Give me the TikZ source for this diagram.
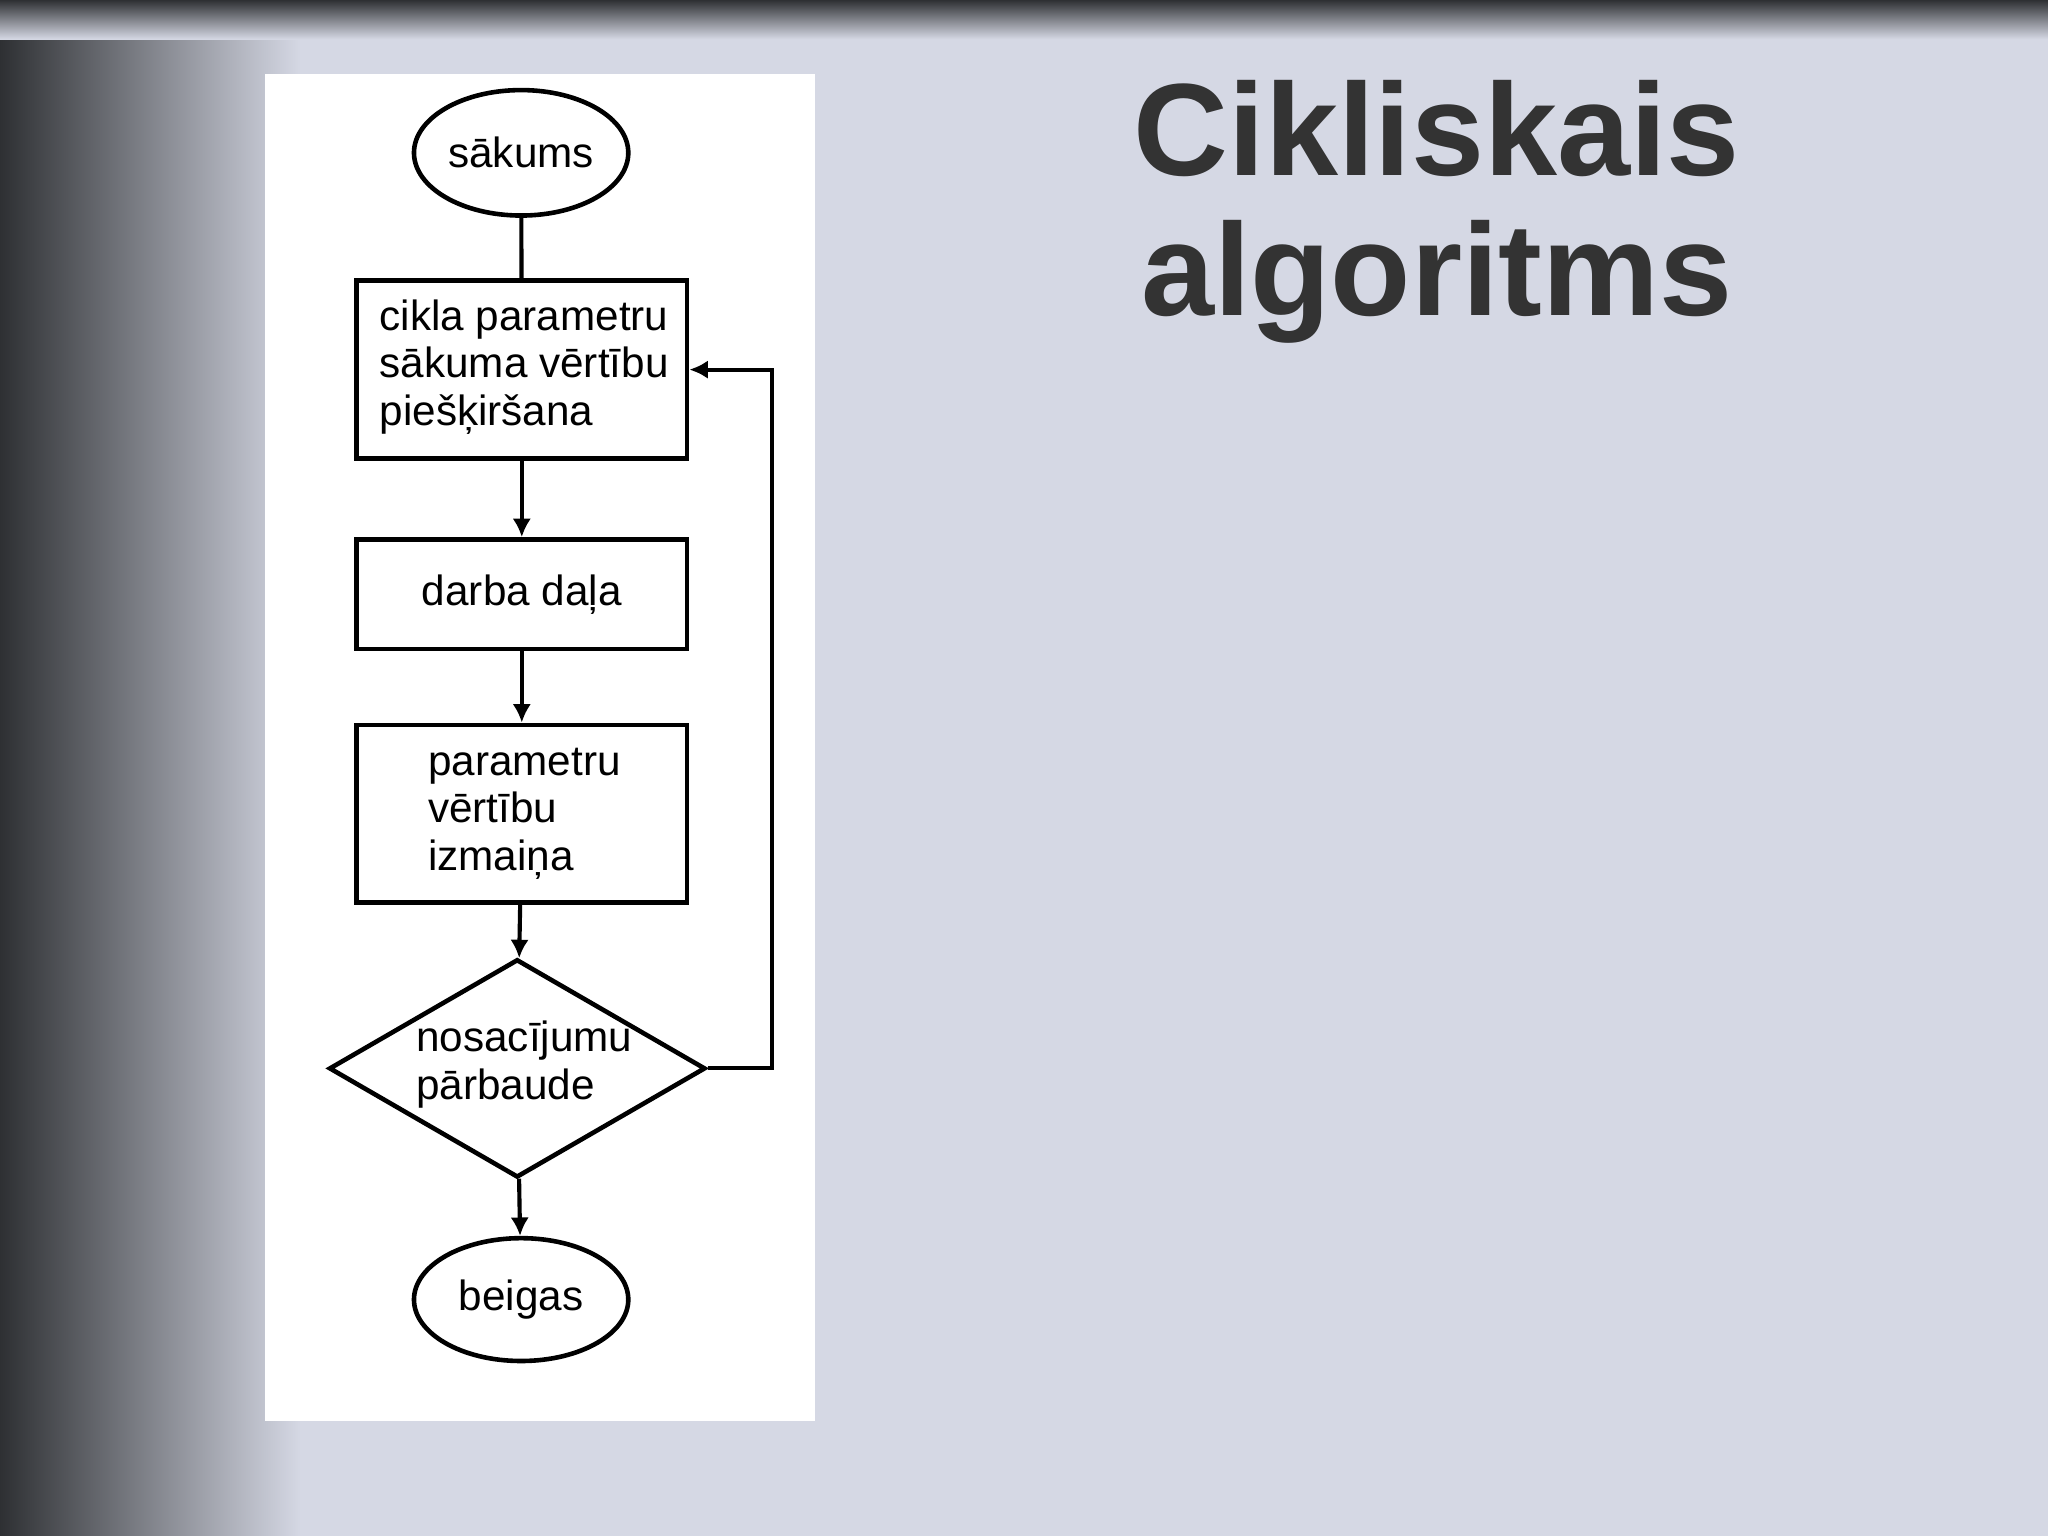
\documentclass[tikz,border=0pt]{standalone}
\usepackage{fontspec}
\setmainfont{Liberation Sans}
\usetikzlibrary{shapes.geometric,arrows.meta}
\definecolor{bg}{HTML}{D5D8E4}
\definecolor{dark}{HTML}{2E3033}
\definecolor{ttl}{HTML}{333333}
\tikzset{
 pbox/.style={draw,line width=1pt,inner sep=0pt,font=\fontsize{9.2}{10.3}\selectfont},
 term/.style={draw,ellipse,line width=1pt,minimum width=1.64cm,minimum height=0.96cm,inner sep=0pt,font=\fontsize{9.2}{10.3}\selectfont},
 lbl/.style={font=\fontsize{9.2}{10.3}\selectfont,align=left,anchor=west,inner sep=0pt},
 arr/.style={line width=0.9pt,-{Latex[length=4pt,width=4pt]}},
 ln/.style={line width=0.9pt}
}
\begin{document}
\begin{tikzpicture}[x=0.01cm,y=-0.01cm]
\useasboundingbox (0,0) rectangle (1568,1176);
\fill[bg] (0,0) rectangle (1568,1176);
\shade[left color=dark,right color=bg] (0,0) rectangle (230,1176);
\shade[top color=dark,bottom color=bg] (0,0) rectangle (1568,30);
\fill[white] (203,57) rectangle (624,1088);
\node[term] (s) at (399,117) {sākums};
\node[pbox,minimum width=2.53cm,minimum height=1.36cm] (b1) at (399.5,283) {};
\node[lbl] at (290,281) {cikla parametru\\sākuma vērtību\\piešķiršana};
\node[pbox,minimum width=2.53cm,minimum height=0.84cm] (b2) at (399.5,455) {darba daļa};
\node[pbox,minimum width=2.53cm,minimum height=1.36cm] (b3) at (399.5,623) {};
\node[lbl] at (327,623) {parametru\\vērtību\\izmaiņa};
\node[draw,diamond,line width=1pt,minimum width=2.88cm,minimum height=1.67cm,inner sep=0pt,aspect=1.72] (d) at (396,818) {};
\node[lbl] at (318,815) {nosacījumu\\pārbaude};
\node[term,minimum height=0.94cm] (e) at (399,995) {beigas};
\coordinate (c1) at (591,818);
\coordinate (c2) at (591,283);
\draw[ln] (s) -- (b1);
\draw[arr] (b1) -- (b2);
\draw[arr] (b2) -- (b3);
\draw[arr] (b3) -- (d);
\draw[arr] (d) -- (e);
\draw[arr] (d.east) -- (c1) -- (c2) -- (b1.east);
\node[font=\bfseries\fontsize{28.6}{30.5}\selectfont,text=ttl,align=center] (t) at (1100,162) {Cikliskais\\algoritms};
\end{tikzpicture}
\end{document}
